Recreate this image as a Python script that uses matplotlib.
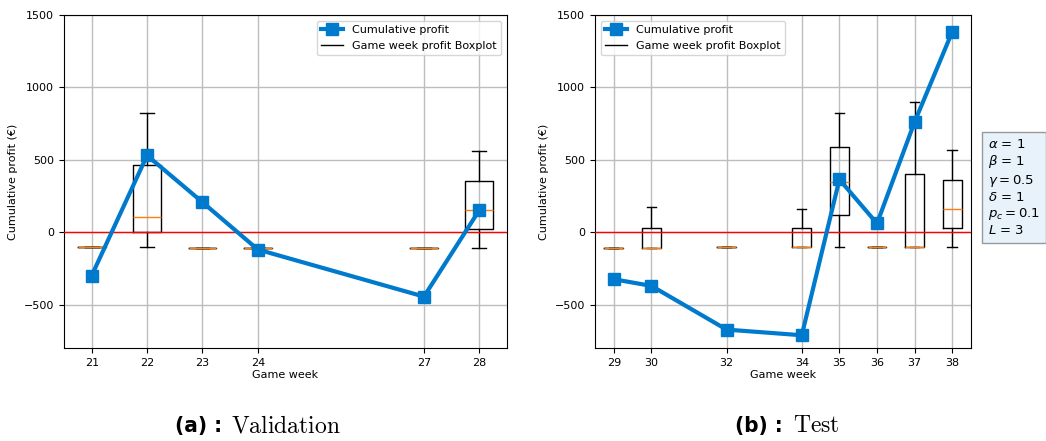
import matplotlib
matplotlib.use("Agg")
import matplotlib.pyplot as plt
from matplotlib.lines import Line2D

# Validation set (game weeks 21-28)
val_weeks = [21, 22, 23, 24, 27, 28]
val_cum = [-300, 530, 207, -120, -445, 152]
val_q1 = [-100, 0, -110, -110, -110, 20]
val_med = [-100, 105, -110, -110, -110, 150]
val_q3 = [-100, 465, -110, -110, -110, 355]
val_lo = [-100, -100, -110, -110, -110, -110]
val_hi = [-100, 825, -110, -110, -110, 560]

# Test set (game weeks 29-38)
test_weeks = [29, 30, 32, 34, 35, 36, 37, 38]
test_cum = [-325, -371, -673, -712, 364, 60, 761, 1383]
test_q1 = [-110, -110, -100, -100, 122, -100, -100, 30]
test_med = [-110, -110, -100, -100, 344, -100, -100, 160]
test_q3 = [-110, 30, -100, 30, 586, -100, 400, 362]
test_lo = [-110, -110, -100, -100, -100, -100, -100, -100]
test_hi = [-110, 171, -100, 159, 825, -100, 900, 565]

params = [r"$\alpha$ = 1", r"$\beta$ = 1", r"$\gamma = 0.5$",
          r"$\delta$ = 1", r"$p_c = 0.1$", r"$L$ = 3"]

BLUE = "#007acc"

fig = plt.figure(figsize=(10.46, 4.41), dpi=100)
ax_v = fig.add_axes([0.0612, 0.2109, 0.4235, 0.7551])
ax_t = fig.add_axes([0.5688, 0.2109, 0.3595, 0.7551])


def draw(ax, weeks, cum, q1, med, q3, lo, hi, loc):
    stats = [dict(med=m, q1=a, q3=b, whislo=l, whishi=h, fliers=[])
             for m, a, b, l, h in zip(med, q1, q3, lo, hi)]
    ax.bxp(stats, positions=weeks, widths=0.5, showfliers=False,
           boxprops=dict(color="k", lw=1), whiskerprops=dict(color="k", lw=1),
           capprops=dict(color="k", lw=1),
           medianprops=dict(color="C1", lw=1), manage_ticks=False, zorder=2)
    ax.axhline(0, color="red", lw=1, zorder=3)
    ax.plot(weeks, cum, color=BLUE, lw=3, marker="s", ms=8, zorder=4)
    ax.set_xticks(weeks)
    ax.set_xticklabels([str(w) for w in weeks])
    ax.set_xlim(weeks[0] - 0.5, weeks[-1] + 0.5)
    ax.set_ylim(-800, 1500)
    ax.set_yticks([-500, 0, 500, 1000, 1500])
    ax.grid(True, color="#bdbdbd", lw=1, zorder=0)
    ax.set_axisbelow(True)
    ax.tick_params(labelsize=8)
    ax.set_xlabel("Game week", fontsize=8, labelpad=2)
    ax.set_ylabel("Cumulative profit (€)", fontsize=8)
    handles = [Line2D([], [], color=BLUE, lw=3, marker="s", ms=8),
               Line2D([], [], color="k", lw=1)]
    ax.legend(handles, ["Cumulative profit", "Game week profit Boxplot"],
              loc=loc, fontsize=8)


draw(ax_v, val_weeks, val_cum, val_q1, val_med, val_q3, val_lo, val_hi, "upper right")
draw(ax_t, test_weeks, test_cum, test_q1, test_med, test_q3, test_lo, test_hi, "upper left")

fig.text(0.9446, 0.575, "\n".join(params), fontsize=9.5, va="center", ha="left",
         bbox=dict(boxstyle="square,pad=0.45", facecolor="#e8f2fa", edgecolor="#999999"))

# subcaptions under each panel
for x, tag, name in [(0.167, "(a) :", "Validation"), (0.703, "(b) :", "Test")]:
    t = fig.text(x, 0.02, tag, fontsize=16, fontweight="bold", fontstretch="condensed",
                 va="baseline", ha="left")
    fig.canvas.draw()
    bb = t.get_window_extent()
    fig.text(bb.x1 / fig.bbox.width + 0.009, 0.02, r"$\mathrm{" + name + "}$",
             fontsize=17, math_fontfamily="cm", va="baseline", ha="left")

fig.savefig("out.png", dpi=100)
plt.close(fig)
